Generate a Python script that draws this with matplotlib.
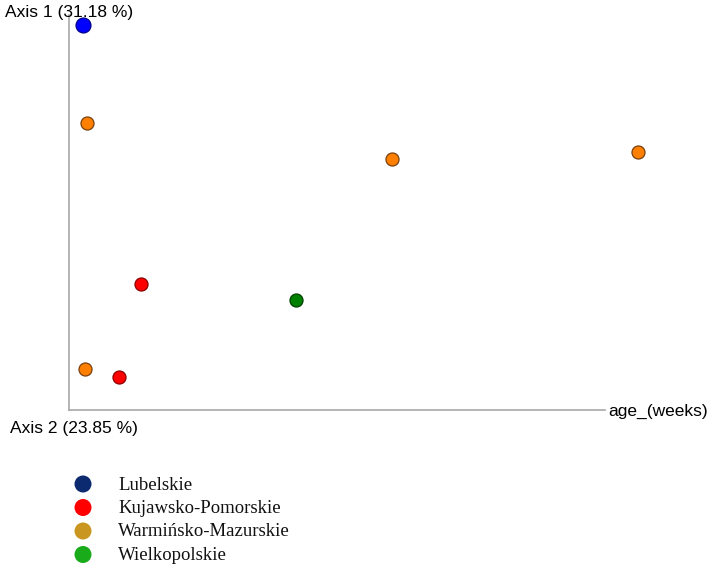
import matplotlib
matplotlib.use("Agg")
import matplotlib.pyplot as plt

# ---- data ----
regions = ["Lubelskie", "Kujawsko-Pomorskie", "Warmińsko-Mazurskie", "Wielkopolskie"]
legend_colors = ["#0B2A6F", "#FF0000", "#C9961F", "#1AAB1A"]
point_colors = {"Lubelskie": "#0000FF", "Kujawsko-Pomorskie": "#FF0000",
                "Warmińsko-Mazurskie": "#FF8000", "Wielkopolskie": "#008000"}
point_edges = {"Lubelskie": "#00008B", "Kujawsko-Pomorskie": "#8B0000",
               "Warmińsko-Mazurskie": "#7A4010", "Wielkopolskie": "#004000"}

sample_region = ["Lubelskie", "Warmińsko-Mazurskie", "Warmińsko-Mazurskie", "Warmińsko-Mazurskie",
                 "Kujawsko-Pomorskie", "Wielkopolskie", "Warmińsko-Mazurskie", "Kujawsko-Pomorskie"]
age_weeks = [2.6, 3.4, 60.3, 106.2, 13.4, 42.4, 3.0, 9.3]
axis1 = [97.5, 72.7, 63.5, 65.3, 31.9, 27.8, 10.4, 8.4]

x_label = "age_(weeks)"
y_label = "Axis 1 (31.18 %)"
z_label = "Axis 2 (23.85 %)"

W, H = 712, 565
fig = plt.figure(figsize=(W / 100, H / 100), dpi=100)

# main axes in pixel placement: left 69, right 700, top 10, bottom 410
l, r, t, b = 69, 700, 10, 410
ax = fig.add_axes([l / W, 1 - b / H, (r - l) / W, (b - t) / H])
xmax_line = 100.0
ymax_line = 100.0
ax.set_xlim(0, xmax_line * (r - l) / (605 - l))
ax.set_ylim(0, ymax_line * (b - t) / (b - 15))
for s in ["top", "right"]:
    ax.spines[s].set_visible(False)
ax.spines["left"].set_bounds(0, ymax_line)
ax.spines["bottom"].set_bounds(0, xmax_line)
for s in ["left", "bottom"]:
    ax.spines[s].set_color("#A8A8A8")
    ax.spines[s].set_linewidth(1.2)
ax.set_xticks([])
ax.set_yticks([])

for reg, xv, yv in zip(sample_region, age_weeks, axis1):
    size = 115 if reg == "Lubelskie" else 88
    ax.scatter([xv], [yv], s=size, c=point_colors[reg], edgecolors=point_edges[reg],
               linewidths=0.9, zorder=3, clip_on=False)

sans = "Liberation Sans"
fig.text(5 / W, 1 - 13 / H, y_label, fontsize=12.5, family=sans, va="center", ha="left")
fig.text(10 / W, 1 - 428 / H, z_label, fontsize=12.5, family=sans, va="center", ha="left")
fig.text(608 / W, 1 - 411 / H, x_label, fontsize=12.5, family=sans, va="center", ha="left")

# legend drawn in an overlay axes using pixel coordinates
lax = fig.add_axes([0, 0, 1, 1], zorder=5)
lax.set_xlim(0, W)
lax.set_ylim(H, 0)
lax.axis("off")
leg_y0, leg_dy = 484, 23.5
for i, (name, col) in enumerate(zip(regions, legend_colors)):
    yy = leg_y0 + i * leg_dy
    lax.scatter([83], [yy], s=150, c=col, edgecolors="none")
    lax.text(118, yy + 1, name, fontsize=13.5, family="Liberation Serif", va="center", ha="left",
             color="#111111")

fig.savefig("out.png", dpi=100)
